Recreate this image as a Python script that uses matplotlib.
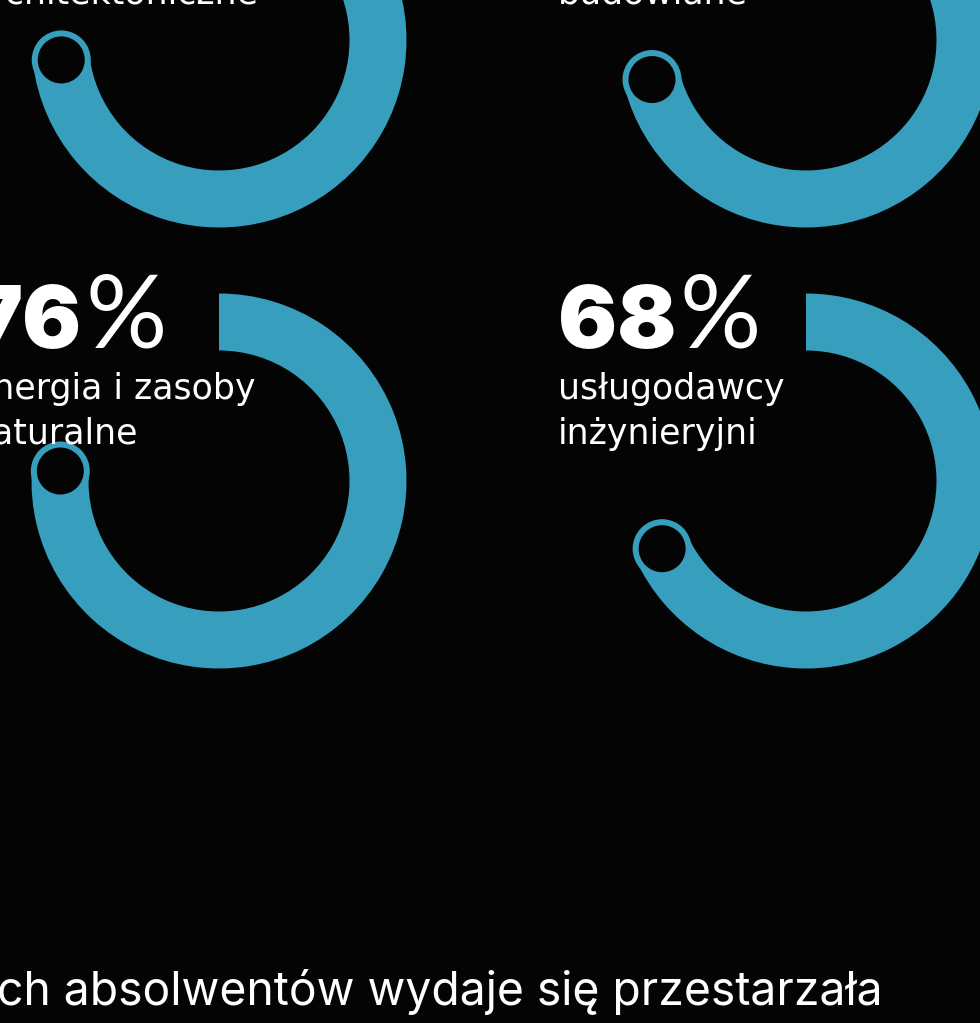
import matplotlib
matplotlib.use('Agg')
import matplotlib.pyplot as plt
from matplotlib.patches import Wedge, Circle
import numpy as np

# data
pct = [73, 71, 76, 68]
pct_labels = [None, None, '76', '68']
labels = [
    ['', 'architektoniczne'],
    ['', 'budowlane'],
    ['energia i zasoby', 'naturalne'],
    ['usługodawcy', 'inżynieryjni'],
]
footer = 'ch absolwentów wydaje się przestarzała'

# layout (pixel coords of the 980x1023 canvas)
centers = [(219, 40), (806, 40), (219, 481), (806, 481)]
r_out = 187.5
band = 57
r_mid = r_out - band / 2
blue = '#379EBE'
bg = '#040404'

fig = plt.figure(figsize=(9.8, 10.23), dpi=100, facecolor=bg)
ax = fig.add_axes([0, 0, 1, 1])
ax.set_xlim(0, 980)
ax.set_ylim(1023, 0)
ax.set_facecolor(bg)
ax.axis('off')

renderer = fig.canvas.get_renderer()

for (cx, cy), p, pl, lines in zip(centers, pct, pct_labels, labels):
    # y axis is flipped, so increasing angle runs clockwise on screen
    t1 = -90
    t2 = -90 + 3.6 * p
    ax.add_patch(Wedge((cx, cy), r_out, t1, t2, width=band, color=blue, lw=0))
    a = np.deg2rad(t2)
    ex, ey = cx + r_mid * np.cos(a), cy + r_mid * np.sin(a)
    ax.add_patch(Circle((ex, ey), 29.5, color=blue, lw=0))
    ax.add_patch(Circle((ex, ey), 23.5, color=bg, lw=0))

    tx = cx - 248
    if pl is not None:
        t = ax.text(tx, cy - 133, pl, color='white', fontsize=63,
                    family='Inter', weight='black', va='baseline', ha='left')
        bb = t.get_window_extent(renderer).transformed(ax.transData.inverted())
        ax.text(bb.x1 + 3, cy - 134, '%', color='white', fontsize=73,
                family='Lato', weight='normal', va='baseline', ha='left')
    for i, ln in enumerate(lines):
        if ln:
            ax.text(tx, cy - 82 + 45 * i, ln, color='white', fontsize=25,
                    family='DejaVu Sans', va='baseline', ha='left')

ax.text(883, 1005, footer, color='white', fontsize=33.3, family='Inter',
        va='baseline', ha='right')

fig.savefig('out.png', dpi=100, facecolor=bg)
